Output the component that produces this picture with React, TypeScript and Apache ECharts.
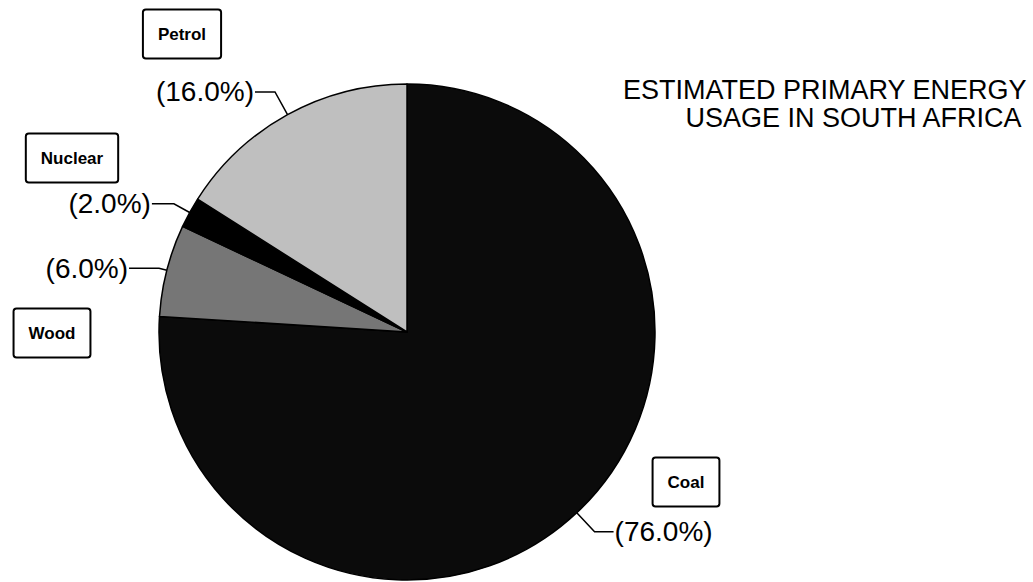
import React, { useEffect, useRef } from "react";
import * as echarts from "echarts";

// ---- data ----
const categories = ["Coal", "Wood", "Nuclear", "Petrol"];
const shares = [76, 6, 2, 16];
const titleLines = ["ESTIMATED PRIMARY ENERGY", "USAGE IN SOUTH AFRICA"];

// ---- styling / layout (not data) ----
const fills: Record<string, string> = {
  Coal: "#0b0b0b",
  Wood: "#767676",
  Nuclear: "#000000",
  Petrol: "#bfbfbf",
};
const leader: Record<string, [number, number]> = {
  Coal: [26, 19],
  Wood: [8, 30],
  Nuclear: [18, 22],
  Petrol: [26, 20],
};
const boxCenter: Record<string, [number, number]> = {
  Coal: [686, 482],
  Wood: [52, 333],
  Nuclear: [72, 158],
  Petrol: [182, 34],
};

const FONT = "'Liberation Sans', Arial, Helvetica, sans-serif";

export default function App() {
  const ref = useRef<HTMLDivElement>(null);
  useEffect(() => {
    if (!ref.current) return;
    const chart = echarts.init(ref.current, undefined, { renderer: "svg" });
    const pieData = categories.map((name, i) => ({
      name,
      value: shares[i],
      itemStyle: { color: fills[name] },
      labelLine: { length: leader[name][0], length2: leader[name][1] },
    }));
    const boxData = categories.map((name, i) => ({ name, value: shares[i] }));
    chart.setOption({
      animation: false,
      backgroundColor: "#ffffff",
      graphic: titleLines.map((line, i) => ({
        type: "text",
        right: 6 + i * 4,
        top: 76 + i * 28,
        style: {
          text: line,
          fontFamily: FONT,
          fontSize: 27,
          fill: "#000",
        },
      })),
      series: [
        {
          type: "pie",
          center: [407, 332],
          radius: 248,
          startAngle: 90,
          clockwise: true,
          avoidLabelOverlap: false,
          silent: true,
          data: pieData,
          itemStyle: { borderColor: "#000", borderWidth: 1.5 },
          label: {
            show: true,
            position: "outside",
            distanceToLabelLine: 1,
            formatter: (p: any) => "(" + p.percent.toFixed(1) + "%)",
            fontFamily: FONT,
            fontSize: 28,
            color: "#000",
          },
          labelLine: {
            show: true,
            smooth: false,
            lineStyle: { color: "#000", width: 1.5 },
          },
        },
        {
          type: "pie",
          center: [407, 332],
          radius: 248,
          startAngle: 90,
          clockwise: true,
          avoidLabelOverlap: false,
          silent: true,
          data: boxData,
          itemStyle: { color: "rgba(0,0,0,0)", borderWidth: 0 },
          label: {
            show: true,
            position: "outside",
            formatter: "{b}",
            fontFamily: FONT,
            fontSize: 17,
            fontWeight: "bold",
            lineHeight: 18,
            color: "#000",
            backgroundColor: "#fff",
            borderColor: "#000",
            borderWidth: 2,
            borderRadius: 2,
            padding: [15, 14, 14, 14],
          },
          labelLine: { show: false },
          labelLayout: (p: any) => {
            const c = boxCenter[categories[p.dataIndex]];
            return { x: c[0], y: c[1], align: "center", verticalAlign: "middle" };
          },
        },
      ],
    });
    return () => chart.dispose();
  }, []);
  return (
    <div
      ref={ref}
      style={{ position: "fixed", left: 0, top: 0, width: 1033, height: 582 }}
    />
  );
}
